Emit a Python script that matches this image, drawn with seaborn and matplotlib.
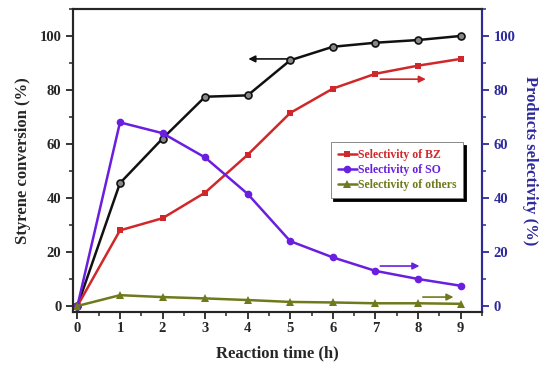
import matplotlib
matplotlib.use("Agg")
import matplotlib.pyplot as plt
import seaborn as sns
import pandas as pd
from matplotlib.ticker import MultipleLocator

# --------------------- data ---------------------
hours = [0, 1, 2, 3, 4, 5, 6, 7, 8, 9]
conversion = [0, 45.5, 62, 77.5, 78, 91, 96, 97.5, 98.5, 100]
sel_bz = [0, 28, 32.5, 42, 56, 71.5, 80.5, 86, 89, 91.5]
sel_so = [0, 68, 64, 55, 41.5, 24, 18, 13, 10, 7.5]
sel_others = [0, 4, 3.3, 2.8, 2.2, 1.5, 1.3, 1.0, 1.0, 0.8]

df = pd.DataFrame({"time": hours, "conv": conversion, "bz": sel_bz,
                   "so": sel_so, "others": sel_others})

# --------------------- style ---------------------
sns.set_style("ticks")
plt.rcParams['font.family'] = ['Liberation Serif', 'DejaVu Serif']
plt.rcParams['font.weight'] = 'bold'

c_black = '#111111'
c_red = '#d0282a'
c_purple = '#6a1ee0'
c_olive = '#6f7a1c'
c_axis2 = '#2e2a9c'

fig = plt.figure(figsize=(5.5, 3.74), dpi=100)
ax = fig.add_axes([0.133, 0.166, 0.743, 0.810])
ax2 = ax.twinx()

# --------------------- plots ---------------------
sns.lineplot(data=df, x="time", y="conv", ax=ax, color=c_black, lw=1.8,
             marker='o', markersize=5, markerfacecolor='#888888',
             markeredgecolor=c_black, markeredgewidth=1.2)
sns.lineplot(data=df, x="time", y="bz", ax=ax2, color=c_red, lw=1.8,
             marker='s', markersize=4.5, markeredgewidth=0, label='Selectivity of BZ')
sns.lineplot(data=df, x="time", y="so", ax=ax2, color=c_purple, lw=1.8,
             marker='o', markersize=5.5, markeredgewidth=0, label='Selectivity of SO')
sns.lineplot(data=df, x="time", y="others", ax=ax2, color=c_olive, lw=1.8,
             marker='^', markersize=5.5, markeredgewidth=0, label='Selectivity of others')

# --------------------- axes ---------------------
for a in (ax, ax2):
    a.set_xlim(-0.1, 9.5)
    a.set_ylim(-2.2, 110)
    a.yaxis.set_major_locator(MultipleLocator(20))
    a.yaxis.set_minor_locator(MultipleLocator(10))
ax.xaxis.set_major_locator(MultipleLocator(1))
ax.xaxis.set_minor_locator(MultipleLocator(0.5))

ax.tick_params(which='major', direction='out', length=5, width=1.3, labelsize=10.5)
ax.tick_params(which='minor', direction='out', length=3, width=1.1)
ax.tick_params(axis='x', pad=2)
ax2.tick_params(which='major', direction='out', length=5, width=1.3, labelsize=10.5,
                colors=c_axis2)
ax2.tick_params(which='minor', direction='out', length=3, width=1.1, colors=c_axis2)

for s in ax.spines.values():
    s.set_linewidth(1.5)
for name, s in ax2.spines.items():
    s.set_linewidth(1.5)
ax2.spines['right'].set_color(c_axis2)

ax.set_xlabel('Reaction time (h)', fontsize=12, fontweight='bold', labelpad=8)
ax.set_ylabel('Styrene conversion (%)', fontsize=12, fontweight='bold', labelpad=6)
ax2.set_ylabel('Products selectivity (%)', fontsize=12, fontweight='bold',
               color=c_axis2, rotation=270, labelpad=16)

for lab in ax.get_xticklabels() + ax.get_yticklabels() + ax2.get_yticklabels():
    lab.set_fontweight('bold')

# --------------------- arrows ---------------------
arr = dict(arrowstyle='-|>', lw=1.2, mutation_scale=10)
ax.annotate('', xy=(3.95, 91.5), xytext=(5.0, 91.5),
            arrowprops=dict(arr, color=c_black))
ax2.annotate('', xy=(8.25, 84), xytext=(7.05, 84),
             arrowprops=dict(arr, color=c_red))
ax2.annotate('', xy=(8.1, 14.8), xytext=(7.05, 14.8),
             arrowprops=dict(arr, color=c_purple))
ax2.annotate('', xy=(8.9, 3.3), xytext=(8.05, 3.3),
             arrowprops=dict(arr, color=c_olive))

# --------------------- legend ---------------------
leg = ax2.legend(loc='upper left', bbox_to_anchor=(0.63, 0.56), fontsize=8.5,
                 frameon=True, fancybox=False,
                 shadow={'color': 'black', 'alpha': 1.0},
                 labelcolor='linecolor',
                 handlelength=1.6, handletextpad=0.1, borderpad=0.6,
                 labelspacing=0.25, borderaxespad=0)
leg.get_frame().set_edgecolor('#777777')
leg.get_frame().set_linewidth(0.6)
for t in leg.get_texts():
    t.set_fontweight('bold')

plt.savefig('out.png', dpi=100)
plt.close()
